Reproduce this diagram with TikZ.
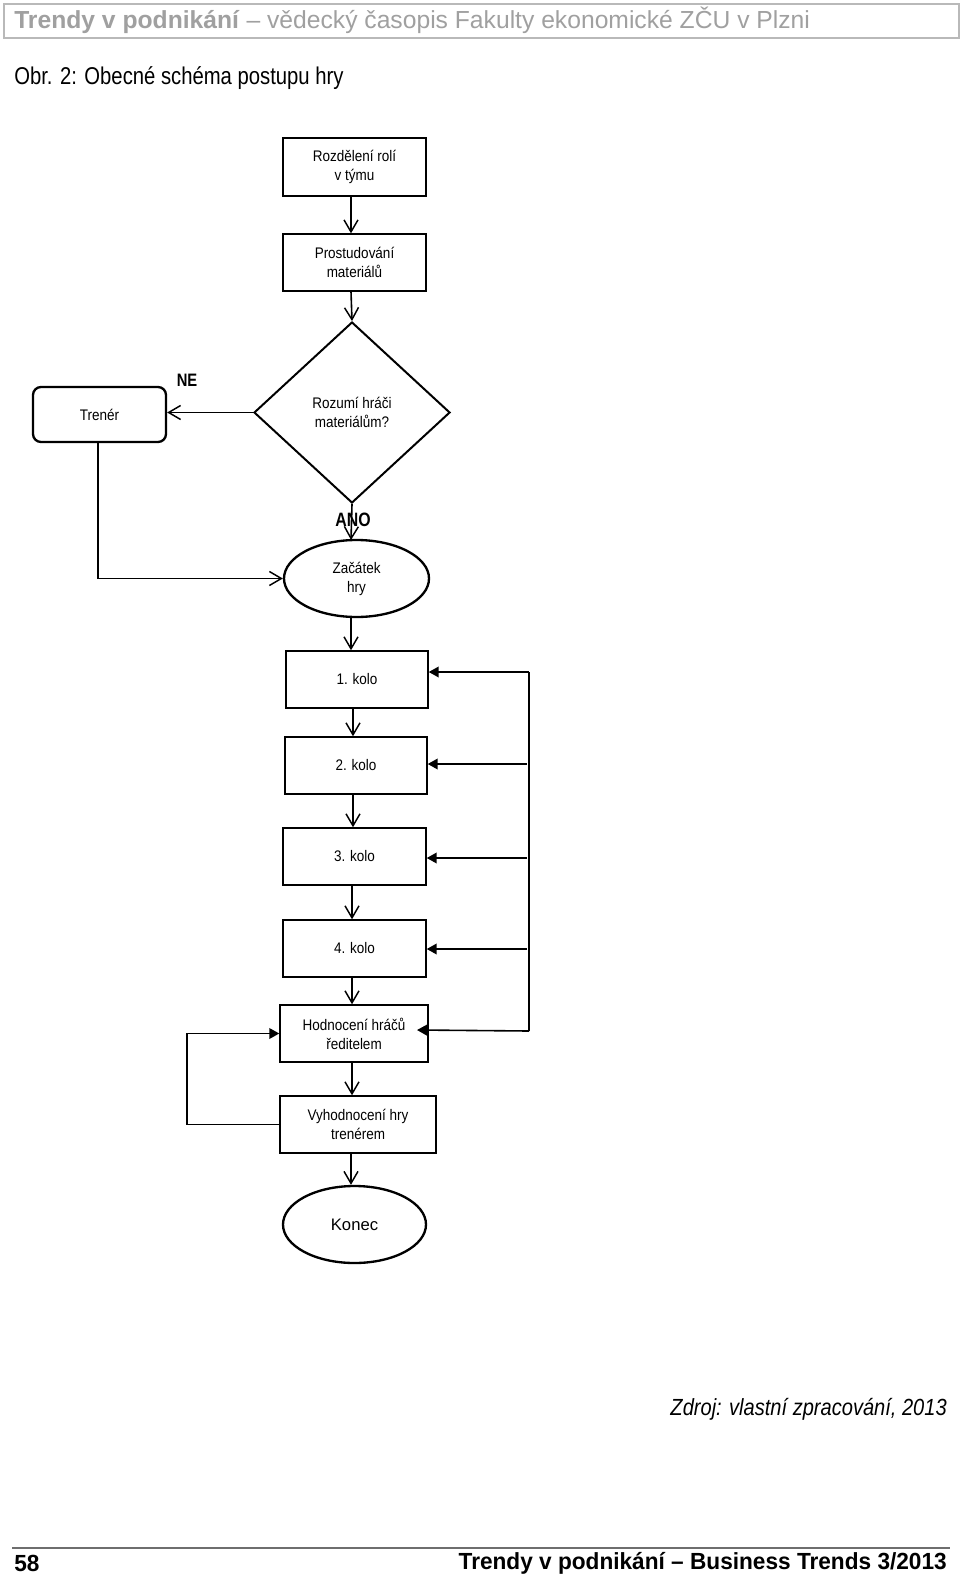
\documentclass[tikz,border=0pt]{standalone}
\usepackage{fontspec}
\setmainfont{Liberation Sans}
\newfontfamily\nar[FakeStretch=0.82]{Liberation Sans}
\newfontfamily\nodefam[FakeStretch=0.88]{Liberation Sans}
\newfontfamily\titlefam[FakeStretch=0.835]{Liberation Sans}
\newfontfamily\srcfam[FakeStretch=0.86]{Liberation Sans}
\newfontfamily\footfam[FakeStretch=0.97]{Liberation Sans}
\usetikzlibrary{shapes.geometric,arrows.meta}
\definecolor{hdrgray}{RGB}{160,160,160}
\definecolor{hdrline}{RGB}{185,185,185}
\definecolor{footline}{RGB}{110,110,110}
\begin{document}
\begin{tikzpicture}[x=0.75pt,y=-0.75pt,
  nodefont/.style={font=\nodefam\fontsize{11.5}{14.25}\selectfont},
  box/.style={draw, rectangle, line width=1pt, align=center, nodefont, inner sep=0pt},
  thickbox/.style={box, line width=1.5pt},
  oval/.style={draw, ellipse, line width=1.75pt, align=center, nodefont, inner sep=0pt},
  arr/.style={line width=1.2pt, -{Straight Barb[length=9pt,width=10.5pt,line width=1.1pt]}},
  tri/.style={line width=1.2pt, -{Triangle[length=7.5pt,width=8pt]}},
  lbl/.style={font=\nar\bfseries\fontsize{13.5}{16}\selectfont, inner sep=0pt}
]
\useasboundingbox (0,0) rectangle (960,1576);
\fill[white] (0,0) rectangle (960,1576);

% header
\node[draw=hdrline, line width=1.2pt, minimum width=955*0.75pt, minimum height=34*0.75pt, inner sep=0pt, anchor=north west] (hdr) at (3,3) {};
\node[anchor=west, inner sep=0pt, text=hdrgray, font=\fontsize{18.5}{20}\selectfont] (hdrtext) at (14,20)
  {\textbf{Trendy v podnikání} – vědecký časopis Fakulty ekonomické ZČU v Plzni};

% title
\node[anchor=west, inner sep=0pt, font=\titlefam\fontsize{18.2}{20}\selectfont] (title) at (14,78)
  {Obr. 2: Obecné schéma postupu hry};

% nodes
\node[thickbox, minimum width=107.25pt, minimum height=43.5pt] (b1) at (354.5,167) {Rozdělení rolí\\v týmu};
\node[box, minimum width=107.25pt, minimum height=42.75pt] (b2) at (354.5,262.5) {Prostudování\\materiálů};
\node[draw, diamond, line width=1.5pt, minimum width=147pt, minimum height=135.75pt, inner sep=0pt, align=center, nodefont] (dia) at (352,412.5) {Rozumí hráči\\materiálům?};
\node[draw, rectangle, rounded corners=6pt, line width=1.75pt, minimum width=99.75pt, minimum height=41.25pt, inner sep=0pt, nodefont] (tr) at (99.5,414.5) {Trenér};
\node[oval, minimum width=108.75pt, minimum height=57.75pt] (zac) at (356.5,578.5) {Začátek\\hry};
\node[box, line width=1.1pt, minimum width=106.5pt, minimum height=42.75pt] (k1) at (357,679.5) {1. kolo};
\node[box, line width=1.1pt, minimum width=106.5pt, minimum height=42.75pt] (k2) at (356,765.5) {2. kolo};
\node[box, line width=1.1pt, minimum width=107.25pt, minimum height=42.75pt] (k3) at (354.5,856.5) {3. kolo};
\node[box, line width=1.1pt, minimum width=107.25pt, minimum height=42.75pt] (k4) at (354.5,948.5) {4. kolo};
\node[box, line width=1.1pt, minimum width=111pt, minimum height=42.75pt] (hod) at (354,1033.5) {Hodnocení hráčů\\ředitelem};
\node[box, line width=1.1pt, minimum width=117pt, minimum height=42.75pt] (vyh) at (358,1124.5) {Vyhodnocení hry\\trenérem};
\node[oval, minimum width=107.25pt, minimum height=57.75pt, font=\fontsize{12.5}{14}\selectfont] (kon) at (354.5,1224.5) {Konec};

% labels
\node[lbl] (ne) at (187,380) {NE};
\node[lbl, font=\nar\bfseries\fontsize{14.5}{16}\selectfont] (ano) at (353,520) {ANO};

% main flow
\draw[arr] (351,0 |- b1.south) -- (351,0 |- b2.north);
\draw[arr] (351,0 |- b2.south) -- (dia.north);
\draw[arr] (dia.west) -- (tr.east |- dia.west);
\draw[arr] (dia.south) -- (351,540);
\draw[arr] (98,0 |- tr.south) |- (zac.west);
\draw[arr] (351,0 |- zac.south) -- (351,0 |- k1.north);
\draw[arr] (353,0 |- k1.south) -- (353,0 |- k2.north);
\draw[arr] (353,0 |- k2.south) -- (353,0 |- k3.north);
\draw[arr] (352,0 |- k3.south) -- (352,0 |- k4.north);
\draw[arr] (352,0 |- k4.south) -- (352,0 |- hod.north);
\draw[arr] (352,0 |- hod.south) -- (352,0 |- vyh.north);
\draw[arr] (351,0 |- vyh.south) -- (351,0 |- kon.north);

% right feedback
\coordinate (r1) at (529,672);
\coordinate (r5) at (529,1031);
\coordinate (h5) at (417,1030);
\draw[line width=1.2pt] (r1) -- (r5);
\draw[tri] (r1) -- (k1.east |- r1);
\draw[tri] (527,764) -- (k2.east |- 0,764);
\draw[tri] (527,858) -- (k3.east |- 0,858);
\draw[tri] (527,949) -- (k4.east |- 0,949);
\draw[tri] (r5) -- (h5);

% left feedback
\draw[tri] (vyh.west) -- (187,0 |- vyh.west) |- (hod.west);

% source
\node[anchor=east, inner sep=0pt, font=\srcfam\itshape\fontsize{17.5}{19}\selectfont] (src) at (947,1409) {Zdroj: vlastní zpracování, 2013};

% footer
\coordinate (fl) at (12,1548);
\coordinate (fr) at (950,1548);
\draw[footline, line width=1.3pt] (fl) -- (fr);
\node[anchor=west, inner sep=0pt, font=\footfam\bfseries\fontsize{17.5}{19}\selectfont] (pg) at (14,1563) {58};
\node[anchor=east, inner sep=0pt, font=\footfam\bfseries\fontsize{17.5}{19}\selectfont] (ft) at (947,1563) {Trendy v podnikání – Business Trends 3/2013};
\end{tikzpicture}
\end{document}
